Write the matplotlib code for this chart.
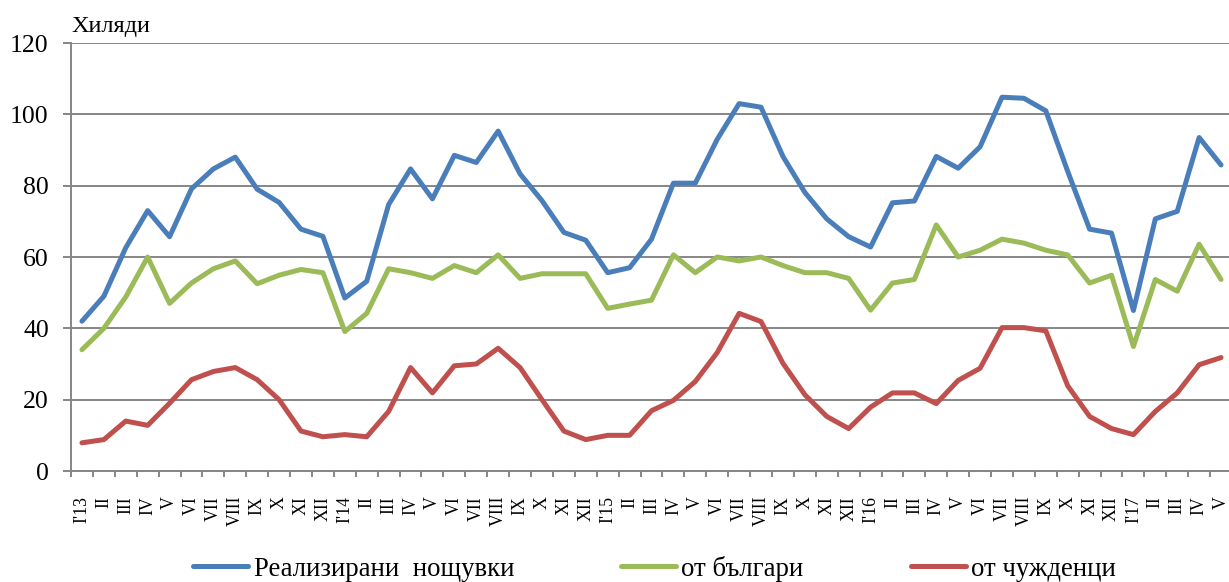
import numpy as np
import matplotlib
matplotlib.use("Agg")
from matplotlib import pyplot as plt

plt.rcParams['font.family'] = ['Liberation Serif', 'DejaVu Serif']

# month labels, I'13 .. V'17
months = ["I'13", "II", "III", "IV", "V", "VI", "VII", "VIII", "IX", "X", "XI", "XII",
          "I'14", "II", "III", "IV", "V", "VI", "VII", "VIII", "IX", "X", "XI", "XII",
          "I'15", "II", "III", "IV", "V", "VI", "VII", "VIII", "IX", "X", "XI", "XII",
          "I'16", "II", "III", "IV", "V", "VI", "VII", "VIII", "IX", "X", "XI", "XII",
          "I'17", "II", "III", "IV", "V"]

# thousands of nights
total = [42, 49, 62.6, 73, 65.7, 79.1, 84.7, 88, 79, 75.3, 67.8, 65.8,
         48.5, 53.2, 74.7, 84.7, 76.3, 88.5, 86.5, 95.3, 83.3, 75.8, 66.9, 64.7,
         55.6, 57, 65, 80.7, 80.7, 93, 103, 102, 88.2, 78.1, 70.7, 65.7,
         62.8, 75.2, 75.7, 88.2, 84.9, 90.9, 104.8, 104.5, 101, 84, 67.8, 66.7,
         45, 70.7, 72.8, 93.5, 85.8]
bulgarians = [34, 40, 48.8, 60, 47, 52.7, 56.7, 58.9, 52.5, 54.9, 56.5, 55.6,
              39.1, 44.2, 56.7, 55.6, 54, 57.6, 55.6, 60.6, 54, 55.3, 55.3, 55.3,
              45.6, 46.8, 47.9, 60.6, 55.6, 60, 58.9, 60, 57.6, 55.6, 55.6, 54,
              45.1, 52.7, 53.7, 69, 60, 61.9, 65, 63.9, 61.9, 60.6, 52.7, 54.9,
              34.9, 53.7, 50.4, 63.6, 53.7]
foreigners = [7.9, 8.8, 14, 12.8, 19, 25.6, 27.9, 29, 25.6, 20, 11.2, 9.6,
              10.2, 9.6, 16.7, 29, 21.9, 29.5, 30, 34.4, 29, 20, 11.2, 8.8,
              10, 10, 16.9, 19.8, 25.1, 33.2, 44.2, 41.9, 30.2, 21.4, 15.3, 11.9,
              17.9, 21.9, 21.9, 18.9, 25.4, 28.8, 40.2, 40.2, 39.3, 23.9, 15.3, 11.9,
              10.2, 16.7, 21.9, 29.8, 31.8]

series_names = ["Реализирани  нощувки", "от българи", "от чужденци"]
colors = ["#4A7EBB", "#9BBB59", "#C0504D"]

W, H = 1229, 582
fig = plt.figure(figsize=(W / 100, H / 100), dpi=100)
ax = fig.add_axes([71 / W, (H - 471) / H, 1161 / W, 428 / H])

x = np.arange(len(months))
lines = []
for vals, name, c in zip([total, bulgarians, foreigners], series_names, colors):
    ln, = ax.plot(x, vals, color=c, lw=3.6, label=name,
                  solid_joinstyle='round', solid_capstyle='round')
    lines.append(ln)

grid_c = '#868686'
ax.set_xlim(-0.5, len(months) - 0.5)
ax.set_ylim(0, 120)
ax.set_yticks(range(0, 121, 20))
ax.yaxis.grid(True, color=grid_c, lw=1.4)
ax.set_axisbelow(True)
for s in ['top', 'right']:
    ax.spines[s].set_visible(False)
for s in ['left', 'bottom']:
    ax.spines[s].set_color(grid_c)
    ax.spines[s].set_linewidth(1.4)

ax.tick_params(axis='y', labelsize=18.5, length=6, width=1.4, color=grid_c, pad=10)
ax.set_xticks(x)
ax.set_xticklabels(months, rotation=90, fontsize=12.8)
ax.tick_params(axis='x', which='major', length=0, pad=18)
ax.set_xticks(np.arange(-0.5, len(months)), minor=True)
ax.tick_params(axis='x', which='minor', length=4, width=1.4, color=grid_c)

fig.text(71 / W, 1 - 32 / H, 'Хиляди', fontsize=17.5, ha='left', va='baseline')

fig.legend(handles=lines, loc='center', bbox_to_anchor=(0.5326, 0.023), ncol=3,
           frameon=False, fontsize=19.3, handlelength=2.05, handletextpad=0.19,
           columnspacing=4.0)

fig.savefig('out.png', dpi=100)
